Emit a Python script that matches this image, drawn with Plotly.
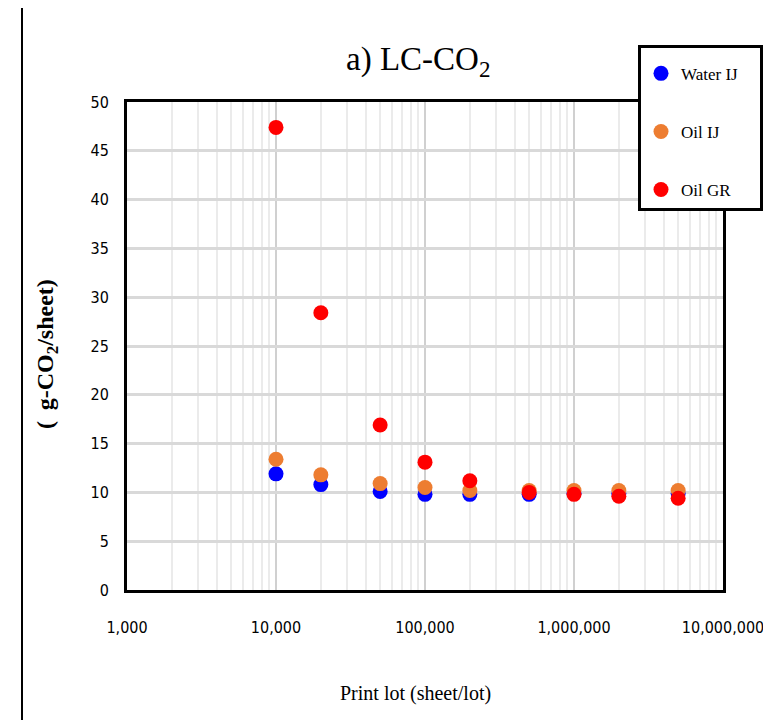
import plotly.graph_objects as go

print_lot = [10000, 20000, 50000, 100000, 200000, 500000, 1000000, 2000000, 5000000]
water_ij = [11.9, 10.8, 10.1, 9.8, 9.8, 9.8, 9.9, 9.9, 9.9]
oil_ij = [13.4, 11.8, 10.9, 10.5, 10.2, 10.2, 10.2, 10.2, 10.2]
oil_gr = [47.4, 28.4, 16.9, 13.1, 11.2, 10.0, 9.8, 9.6, 9.4]

x_tickvals = [1000, 10000, 100000, 1000000, 10000000]
x_ticktext = ["1,000", "10,000", "100,000", "1,000,000", "10,000,000"]
y_tickvals = [0, 5, 10, 15, 20, 25, 30, 35, 40, 45, 50]

serif = "Liberation Serif, Times New Roman, serif"
narrow = "DejaVu Sans Condensed, Liberation Sans Narrow, Arial Narrow, sans-serif"

W, H = 763, 712  # page has an 8px body margin

fig = go.Figure()
series = [("Water IJ", water_ij, "#0000ff"), ("Oil IJ", oil_ij, "#ed7d31"), ("Oil GR", oil_gr, "#ff0000")]
for name, vals, col in series:
    fig.add_trace(go.Scatter(
        x=print_lot, y=vals, mode="markers", name=name + "\u00a0" * 4, legendgroup=name,
        marker=dict(color=col, size=15, line=dict(width=0)),
    ))

L, R, T, B = 119, 48, 94, 130
pw = W - L - R
ph = H - T - B

def px_x(x):  # page pixel -> paper x
    return (x - 8 - L) / pw

def px_y(y):  # page pixel -> paper y
    return (H - B - (y - 8)) / ph

fig.update_layout(
    width=W, height=H,
    margin=dict(l=L, r=R, t=T, b=B, autoexpand=False),
    paper_bgcolor="white", plot_bgcolor="white",
    showlegend=True,
    legend=dict(xref="container", yref="container",
                x=(638 - 8) / W, xanchor="left", y=1 - (45 - 8) / H, yanchor="top",
                bordercolor="black", borderwidth=3, bgcolor="white",
                font=dict(family=serif, size=17, color="black"),
                title=dict(text=" ", font=dict(size=6)),
                tracegroupgap=33, itemwidth=30),
    xaxis=dict(type="log", range=[3, 7], tickvals=x_tickvals, ticktext=x_ticktext,
               showgrid=True, gridcolor="#d0d0d0", gridwidth=2,
               minor=dict(showgrid=True, gridcolor="#ebebeb", gridwidth=2, dtick="D1"),
               showline=True, linecolor="black", linewidth=3, mirror=True,
               ticks="", ticklabelstandoff=21, zeroline=False,
               tickfont=dict(family=narrow, size=16, color="black")),
    yaxis=dict(range=[0, 50], tickvals=y_tickvals,
               showgrid=True, gridcolor="#d9d9d9", gridwidth=3,
               showline=True, linecolor="black", linewidth=3, mirror=True,
               ticks="", ticklabelstandoff=12, zeroline=False,
               tickfont=dict(family=narrow, size=16, color="black")),
)

fig.add_annotation(text="a) LC-CO<sub>2</sub>", xref="paper", yref="paper",
                   x=px_x(418), y=px_y(62), xanchor="center", yanchor="middle",
                   showarrow=False, font=dict(family=serif, size=33, color="black"))

fig.add_annotation(text="Print lot (sheet/lot)", xref="paper", yref="paper",
                   x=px_x(415), y=px_y(693), xanchor="center", yanchor="middle",
                   showarrow=False, font=dict(family=serif, size=20, color="black"))

fig.add_annotation(text="<b>(\u2009 g-CO<sub>2</sub>/sheet)</b>", xref="paper", yref="paper",
                   x=px_x(47), y=px_y(354), xanchor="center", yanchor="middle", textangle=-90,
                   showarrow=False, font=dict(family=serif, size=24, color="black"))

fig.add_shape(type="line", xref="paper", yref="paper", x0=px_x(22), x1=px_x(22),
              y0=px_y(725), y1=px_y(-5), line=dict(color="black", width=2))

fig.write_html("out.html")
